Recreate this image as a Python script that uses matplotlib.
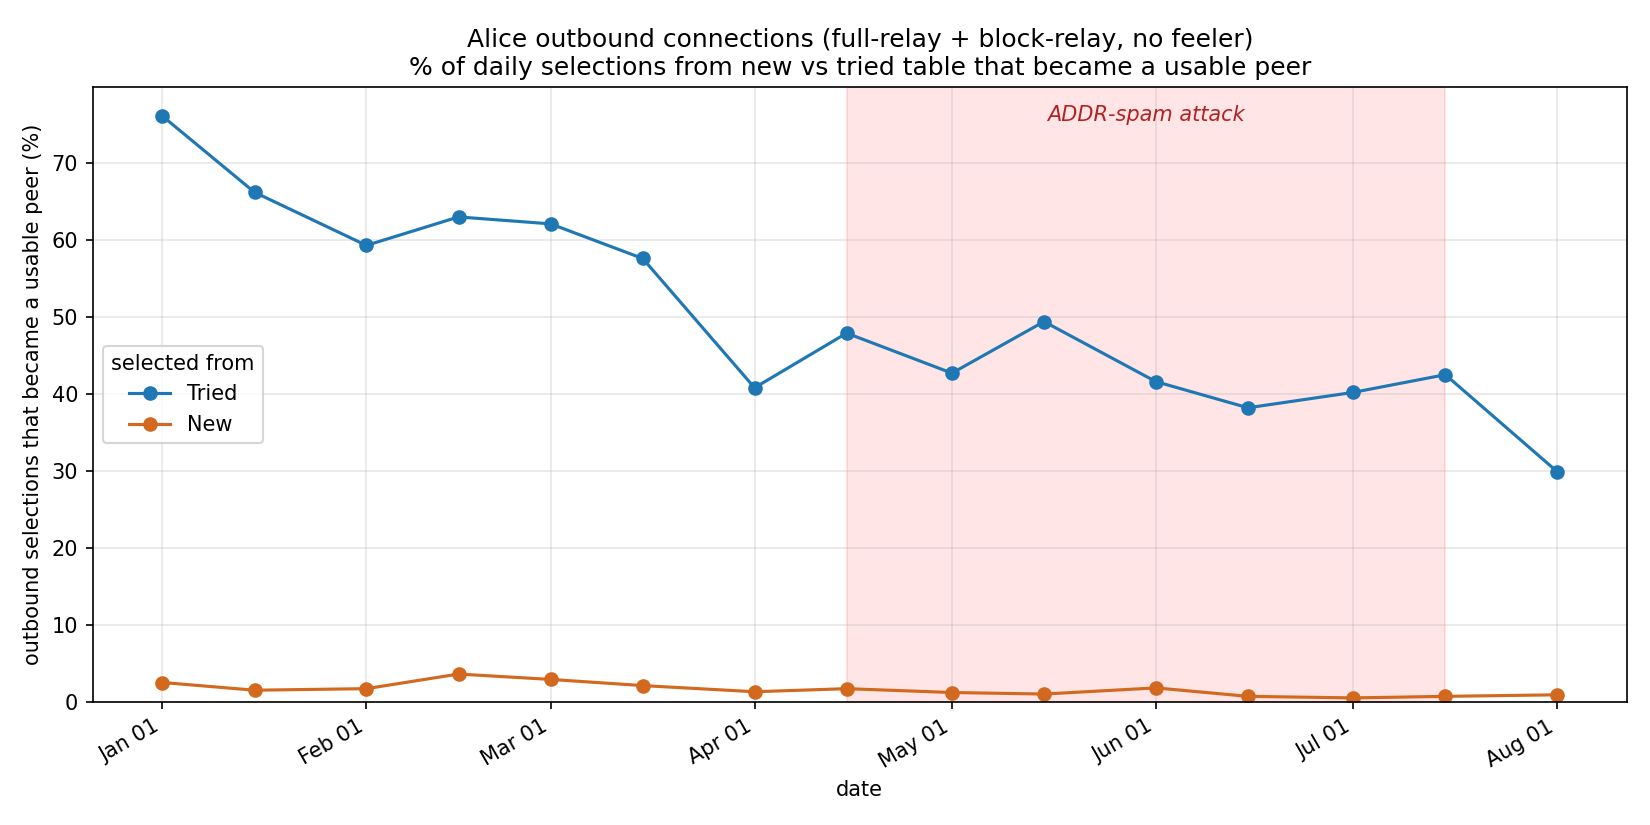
import matplotlib
matplotlib.use("Agg")
import matplotlib.pyplot as plt
import matplotlib.dates as mdates
import pandas as pd

dates = ["2023-01-01", "2023-01-15", "2023-02-01", "2023-02-15", "2023-03-01",
         "2023-03-15", "2023-04-01", "2023-04-15", "2023-05-01", "2023-05-15",
         "2023-06-01", "2023-06-15", "2023-07-01", "2023-07-15", "2023-08-01"]
tried = [76.1, 66.2, 59.3, 63.0, 62.1, 57.6, 40.8, 47.9, 42.7, 49.4,
         41.6, 38.2, 40.2, 42.5, 29.9]
new = [2.5, 1.5, 1.7, 3.6, 2.9, 2.1, 1.3, 1.7, 1.2, 1.0,
       1.8, 0.7, 0.5, 0.7, 0.9]
attack_start = "2023-04-15"
attack_end = "2023-07-15"

x = pd.to_datetime(dates)

fig, ax = plt.subplots(figsize=(11, 5.5), dpi=150)
ax.axvspan(pd.Timestamp(attack_start), pd.Timestamp(attack_end), color="red", alpha=0.1)
ax.plot(x, tried, marker="o", color="#1f77b4", label="Tried")
ax.plot(x, new, marker="o", color="#d2691e", label="New")
ax.set_ylim(bottom=0)
ax.grid(True, alpha=0.3)
mid = pd.Timestamp(attack_start) + (pd.Timestamp(attack_end) - pd.Timestamp(attack_start)) / 2
ax.text(mid, 0.97, "ADDR-spam attack", transform=ax.get_xaxis_transform(),
        ha="center", va="top", style="italic", color="#b22222")
ax.xaxis.set_major_locator(mdates.MonthLocator())
ax.xaxis.set_major_formatter(mdates.DateFormatter("%b %d"))
ax.set_xlabel("date")
ax.set_ylabel("outbound selections that became a usable peer (%)")
ax.set_title("Alice outbound connections (full-relay + block-relay, no feeler)\n"
             "% of daily selections from new vs tried table that became a usable peer")
ax.legend(title="selected from", loc="center left")
fig.autofmt_xdate()
fig.subplots_adjust(left=0.0562, right=0.986, top=0.8945, bottom=0.1494)
fig.savefig("out.png")
